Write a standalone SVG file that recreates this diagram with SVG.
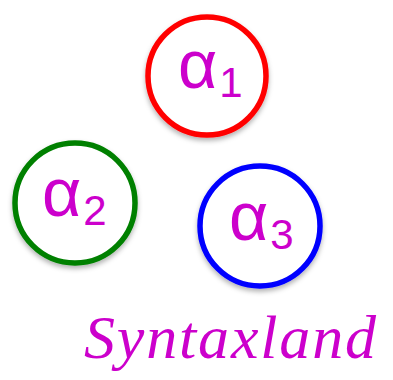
<svg xmlns="http://www.w3.org/2000/svg" width="393" height="380" viewBox="0 0 393 380">
<defs>
<filter id="sh" x="-20%" y="-20%" width="140%" height="140%">
<feDropShadow dx="0" dy="3" stdDeviation="2.5" flood-color="#000" flood-opacity="0.3"/>
</filter>
</defs>
<style>
.c{fill:#fff;stroke-width:5.5;filter:url(#sh)}
.a{font-family:"Liberation Sans",Arial,sans-serif;fill:#cc00cc;font-size:68px}
.s{font-size:42px}
.t{font-family:"Liberation Serif","Times New Roman",serif;font-style:italic;fill:#cc00cc;font-size:62px}
</style>
<rect width="393" height="380" fill="#fff"/>
<g id="alpha1">
<circle class="c" cx="207" cy="76" r="59" stroke="#ff0000"/>
<text class="a" x="178" y="88">α<tspan class="s" dx="2" dy="9">1</tspan></text>
</g>
<g id="alpha2">
<circle class="c" cx="75" cy="203" r="60" stroke="#008000"/>
<text class="a" x="42" y="216">α<tspan class="s" dx="2" dy="9">2</tspan></text>
</g>
<g id="alpha3">
<circle class="c" cx="260" cy="226" r="60" stroke="#0000ff"/>
<text class="a" x="229" y="240">α<tspan class="s" dx="2" dy="9">3</tspan></text>
</g>
<g id="connectors"/>
<text class="t" x="84" y="358" textLength="292" lengthAdjust="spacing">Syntaxland</text>
</svg>
